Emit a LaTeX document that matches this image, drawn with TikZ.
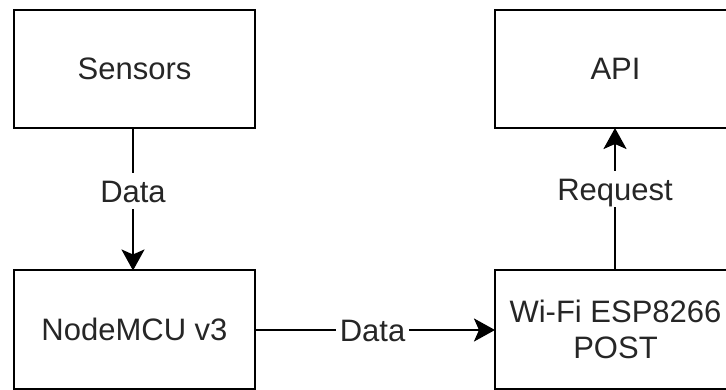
\documentclass[tikz,border=0pt]{standalone}
\usepackage{fontspec}
\setmainfont{Liberation Sans}
\usetikzlibrary{arrows.meta}
\begin{document}
\begin{tikzpicture}[x=1pt,y=-1pt,
  box/.style={draw, line width=2pt, minimum width=241pt, minimum height=118pt, inner sep=0pt, outer sep=0pt, align=center, text=black!85, font=\fontsize{31}{36}\selectfont},
  conn/.style={line width=2.5pt, -{Stealth[length=21pt,width=23pt,inset=5pt]}},
  lbl/.style={fill=white, inner xsep=4pt, inner ysep=6.5pt, text height=23pt, text depth=0pt, text=black!85, font=\fontsize{31}{36}\selectfont}]
\useasboundingbox (0,0) rectangle (726,390);
\begin{scope}
\clip (0,0) rectangle (726,390);
\node[box] (sensors) at (134.5,69) {Sensors};
\node[box] (api) at (615.5,69) {API};
\node[box] (mcu) at (134.5,329.5) {NodeMCU v3};
\node[box] (wifi) at (615.5,329.5) {Wi-Fi ESP8266\\POST};
\draw[conn] (sensors.south -| 133,0) -- node[lbl, pos=0.44] {Data} (mcu.north -| 133,0);
\draw[conn] (wifi.north -| 615,0) -- node[lbl, pos=0.574] {Request} (api.south -| 615,0);
\draw[conn] (mcu.east |- 0,330) -- node[lbl, pos=0.49] {Data} (wifi.west |- 0,330);
\end{scope}
\end{tikzpicture}
\end{document}
